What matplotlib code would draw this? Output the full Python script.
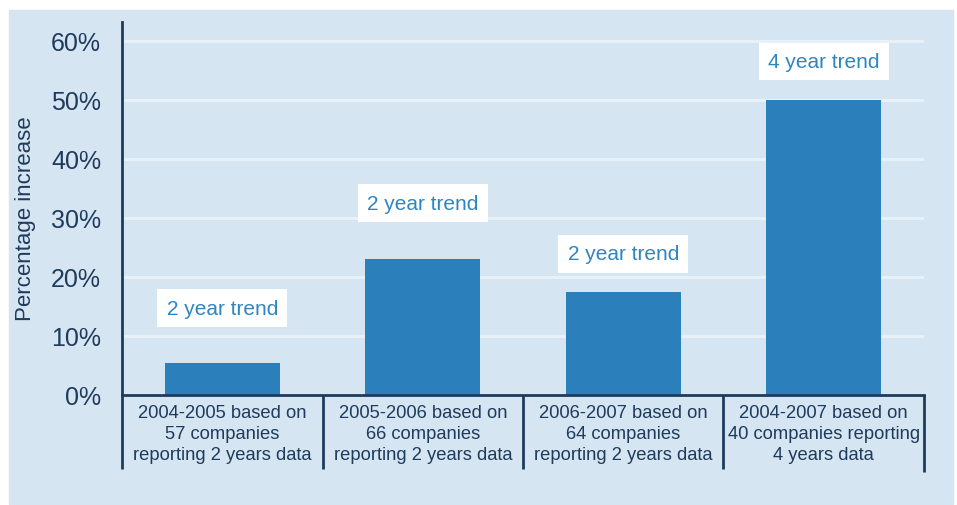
import matplotlib
matplotlib.use("Agg")
import matplotlib.pyplot as plt
from matplotlib.patches import Rectangle
from matplotlib.transforms import blended_transform_factory

plt.rcParams['font.family'] = ['Liberation Sans', 'DejaVu Sans']

# data
categories = [
    "2004-2005 based on\n57 companies\nreporting 2 years data",
    "2005-2006 based on\n66 companies\nreporting 2 years data",
    "2006-2007 based on\n64 companies\nreporting 2 years data",
    "2004-2007 based on\n40 companies reporting\n4 years data",
]
values = [5.5, 23, 17.5, 50]
trend_labels = ["2 year trend", "2 year trend", "2 year trend", "4 year trend"]
yticks = [0, 10, 20, 30, 40, 50, 60]

# layout: how far above each bar the trend box sits (in % units)
label_gap = [9.2, 9.5, 6.4, 6.5]

bg = "#d5e5f2"
bar_color = "#2b80bc"
dark = "#1f3b5c"
grid_color = "#e9f1f8"

fig = plt.figure(figsize=(9.57, 5.06), dpi=100)
fig.patch.set_facecolor("white")
fig.patches.append(Rectangle((9 / 957, 1 / 506), 944 / 957, 494 / 506,
                             transform=fig.transFigure, color=bg, zorder=-10))

ax = fig.add_axes([0.1275, 0.2174, 0.838, 0.7371])
ax.set_facecolor("none")

x = list(range(len(values)))
ax.bar(x, values, width=0.575, color=bar_color, zorder=2)

ax.set_xlim(-0.5, 3.5)
ax.set_ylim(0, 63.2)
ax.set_yticks(yticks)
ax.set_yticklabels([f"{t}%" for t in yticks], fontsize=18, color=dark)
ax.tick_params(axis="y", length=0, pad=15)
ax.set_xticks([])

ax.yaxis.grid(True, color=grid_color, linewidth=2.2)
ax.set_axisbelow(True)

for s in ["top", "right"]:
    ax.spines[s].set_visible(False)
for s in ["left", "bottom"]:
    ax.spines[s].set_color(dark)
    ax.spines[s].set_linewidth(2)
    ax.spines[s].set_zorder(3)

# category boxes under the axis
trans = blended_transform_factory(ax.transData, ax.transAxes)
bounds = [i - 0.5 for i in range(len(values) + 1)]
for i, b in enumerate(bounds):
    bottom = -0.206 if i == len(bounds) - 1 else -0.198
    ax.plot([b, b], [0, bottom], transform=trans, color=dark, lw=2,
            clip_on=False, solid_capstyle="butt")
for xi, cat in zip(x, categories):
    ax.text(xi, -0.104, cat, transform=trans, ha="center", va="center",
            multialignment="center", fontsize=13.2, color=dark,
            linespacing=1.32)

# trend labels in white boxes
for xi, v, lab, g in zip(x, values, trend_labels, label_gap):
    ax.text(xi, v + g, lab, ha="center", va="center", fontsize=15,
            color="#2e86c1", zorder=4,
            bbox=dict(boxstyle="square,pad=0.45", fc="white", ec="none"))

ax.text(-0.12, 0.476, "Percentage increase", transform=ax.transAxes,
        rotation=90, ha="center", va="center", fontsize=16, color=dark)

fig.savefig("out.png", dpi=100)
